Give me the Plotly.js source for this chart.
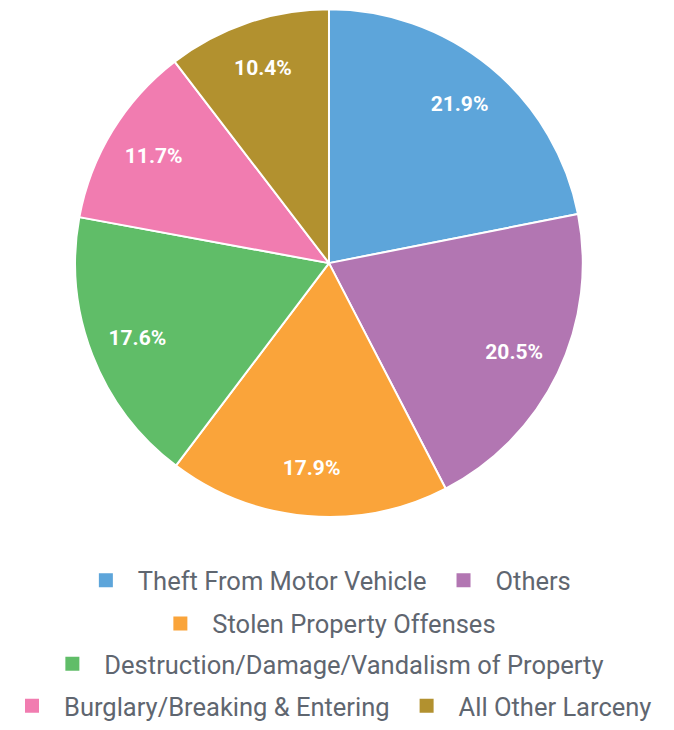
<!DOCTYPE html>
<html><head><meta charset="utf-8">
<script src="https://cdn.plot.ly/plotly-3.0.1.min.js"></script>
<style>html,body{margin:0;padding:0;background:#fff}#chart{width:674px;height:730px}</style>
</head><body><div id="chart"></div>
<script>
const categories = ["Theft From Motor Vehicle","Others","Stolen Property Offenses","Destruction/Damage/Vandalism of Property","Burglary/Breaking & Entering","All Other Larceny"];
const values = [21.9, 20.5, 17.9, 17.6, 11.7, 10.4];
const colors = ["#5DA5DA","#B276B2","#FAA43A","#60BD68","#F17CB0","#B2912F"];
const legendRows = ["legend","legend","legend2","legend3","legend4","legend4"];

const dom = {x: [0.1045, 0.8717], y: [0.278, 0.987]};
const traces = [{
  type: 'pie', labels: categories, values: values, sort: false,
  direction: 'clockwise', rotation: 0,
  marker: {colors: colors, line: {color: '#ffffff', width: 2}},
  textinfo: 'none', showlegend: false, domain: dom
}, {
  type: 'pie', labels: categories, values: values, sort: false,
  direction: 'clockwise', rotation: 0, hole: 0.62,
  marker: {colors: categories.map(() => 'rgba(0,0,0,0)'), line: {width: 0}},
  texttemplate: '%{percent:.1%}', textposition: 'inside',
  insidetextorientation: 'horizontal',
  textfont: {family: 'Roboto', size: 21, color: '#ffffff', weight: 'bold'},
  showlegend: false, domain: dom
}];
categories.forEach((c, i) => traces.push({
  type: 'scatter', mode: 'markers', x: [null], y: [null], name: c,
  legend: legendRows[i],
  marker: {symbol: 'square', size: 14, color: colors[i]}
}));

const lg = (y) => ({orientation: 'h', x: 0.482, xanchor: 'center', y: y, yanchor: 'middle',
  font: {family: 'Roboto', size: 25.5, color: '#5f6670'}, itemwidth: 54, bgcolor: 'rgba(0,0,0,0)'});

Plotly.newPlot('chart', traces, {
  width: 674, height: 730,
  margin: {l: 0, r: 0, t: 0, b: 0},
  paper_bgcolor: '#ffffff', plot_bgcolor: 'rgba(0,0,0,0)',
  font: {family: 'Roboto', color: '#5f6670'},
  xaxis: {visible: false}, yaxis: {visible: false},
  showlegend: true,
  legend: lg(0.189), legend2: lg(0.1287), legend3: lg(0.0725), legend4: lg(0.0137)
}, {displayModeBar: false, staticPlot: true});
</script></body></html>
